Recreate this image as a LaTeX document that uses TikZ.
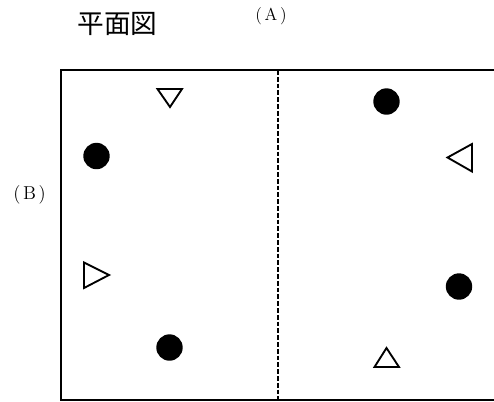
\documentclass[tikz,border=0pt]{standalone}
\usepackage{fontspec}
\newfontfamily\cjk{Noto Sans CJK JP}
\begin{document}
\begin{tikzpicture}[x=0.75pt,y=-0.75pt,
  wall/.style={line width=1.5pt},
  divider/.style={line width=1.4pt,dash pattern=on 3.6pt off 1.5pt},
  marker/.style={line width=1.4pt,line join=miter},
  dot/.style={circle,fill=black,minimum size=19.8pt,inner sep=0pt,outer sep=0pt},
  lbl/.style={inner sep=0pt}]
\useasboundingbox (0,0) rectangle (494,401);
\begin{scope}
\clip (0,0) rectangle (494,401);
% outer wall (right side runs off the picture)
\draw[wall] (520,70) -- (61,70) -- (61,400) -- (520,400);
\coordinate (dtop) at (278,70);
\coordinate (dbot) at (278,400);
\draw[divider] (dtop) -- (dbot);
\end{scope}
% labels
\node[lbl] (title) at (117.5,24) {\fontsize{20pt}{20pt}\cjk 平面図};
\node[lbl,anchor=base] (A) at (271,20.8) {\fontsize{13pt}{14pt}\selectfont(\kern2pt A\kern2pt)};
\node[lbl,anchor=base] (B) at (29.5,199.7) {\fontsize{14pt}{15pt}\selectfont(\kern2pt B\kern2pt)};
% dots
\node[dot] (d1) at (96.5,156) {};
\node[dot] (d2) at (386.5,101.5) {};
\node[dot] (d3) at (169.5,347.5) {};
\node[dot] (d4) at (459,286.5) {};
% triangles
\draw[marker] (157.5,89) -- (182,89) -- (170,107) -- cycle;
\draw[marker] (472,144) -- (472,171.5) -- (447.5,157.5) -- cycle;
\draw[marker] (84,262.5) -- (84,288) -- (109,275) -- cycle;
\draw[marker] (374.5,367) -- (399,367) -- (386.5,348) -- cycle;
\end{tikzpicture}
\end{document}
